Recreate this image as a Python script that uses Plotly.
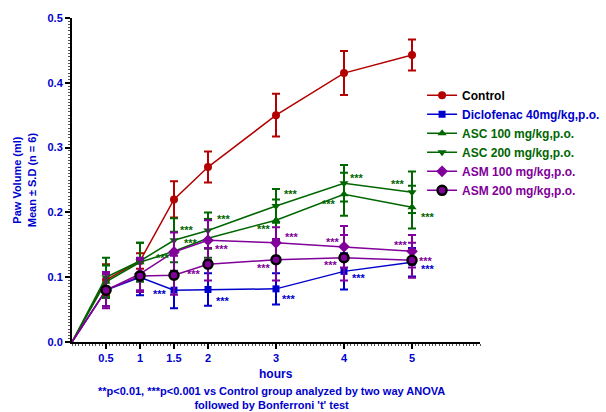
import plotly.graph_objects as go

# ---------------- data ----------------
hours = [0, 0.5, 1, 1.5, 2, 3, 4, 5]

control = [0, 0.096, 0.125, 0.220, 0.270, 0.350, 0.415, 0.443]
control_sd = [0, 0.024, 0.012, 0.028, 0.024, 0.033, 0.034, 0.024]

diclofenac = [0, 0.080, 0.100, 0.080, 0.081, 0.082, 0.109, 0.123]
diclofenac_sd = [0, 0.025, 0.028, 0.028, 0.025, 0.024, 0.028, 0.022]

asc100 = [0, 0.093, 0.123, 0.140, 0.160, 0.188, 0.228, 0.208]
asc100_sd = [0, 0.025, 0.030, 0.030, 0.030, 0.032, 0.033, 0.033]

asc200 = [0, 0.100, 0.125, 0.157, 0.172, 0.210, 0.245, 0.231]
asc200_sd = [0, 0.030, 0.028, 0.034, 0.028, 0.026, 0.028, 0.032]

asm100 = [0, 0.080, 0.105, 0.139, 0.157, 0.153, 0.147, 0.140]
asm100_sd = [0, 0.028, 0.025, 0.030, 0.031, 0.024, 0.032, 0.025]

asm200 = [0, 0.080, 0.102, 0.103, 0.120, 0.127, 0.130, 0.126]
asm200_sd = [0, 0.025, 0.025, 0.030, 0.025, 0.032, 0.035, 0.027]

x_tick_vals = [0.5, 1, 1.5, 2, 3, 4, 5]
x_tick_text = ["0.5", "1", "1.5", "2", "3", "4", "5"]
y_tick_vals = [0.0, 0.1, 0.2, 0.3, 0.4, 0.5]

RED = "#b30000"
BLUE = "#0000cc"
GREEN = "#006600"
PURPLE = "#800099"
FONT = "Liberation Sans, Arial, sans-serif"

series = [
    dict(key="control", name="Control", y=control, sd=control_sd, color=RED,
         text_color="#000000", symbol="circle", size=8, line=None),
    dict(key="diclo", name="Diclofenac 40mg/kg,p.o.", y=diclofenac, sd=diclofenac_sd,
         color=BLUE, text_color=BLUE, symbol="square", size=7, line=None),
    dict(key="asc100", name="ASC 100 mg/kg,p.o.", y=asc100, sd=asc100_sd, color=GREEN,
         text_color=GREEN, symbol="triangle-up", size=8, line=None),
    dict(key="asc200", name="ASC 200 mg/kg,p.o.", y=asc200, sd=asc200_sd, color=GREEN,
         text_color=GREEN, symbol="triangle-down", size=8, line=None),
    dict(key="asm100", name="ASM 100 mg/kg,p.o.", y=asm100, sd=asm100_sd, color=PURPLE,
         text_color=PURPLE, symbol="diamond", size=9, line=None),
    dict(key="asm200", name="ASM 200 mg/kg,p.o.", y=asm200, sd=asm200_sd, color=PURPLE,
         text_color=PURPLE, symbol="circle", size=9, line=dict(color="#000000", width=2.5)),
]

# significance labels: (series key, hour index, side, xshift, yshift)
stars = [
    ("asc200", 3, "left", 4, 10), ("asc100", 3, "right", -2, -7),
    ("asc100", 4, "right", -8, -5), ("asc200", 4, "left", 7, 12),
    ("asc200", 5, "left", 6, 12), ("asc100", 5, "right", -3, -9),
    ("asc200", 6, "left", 4, 5), ("asc100", 6, "right", -6, -10),
    ("asc200", 7, "right", -5, 8), ("asc100", 7, "left", 7, -10),
    ("asm200", 4, "right", -5, -10), ("asm100", 4, "left", 5, -9),
    ("asm100", 5, "left", 7, 6), ("asm200", 5, "right", -3, -8),
    ("asm100", 6, "right", -2, 5), ("asm200", 6, "right", -4, -7),
    ("asm100", 7, "right", -2, 6), ("asm200", 7, "left", 5, -1),
    ("diclo", 3, "right", -5, -4), ("diclo", 4, "left", 6, -11),
    ("diclo", 5, "left", 4, -10), ("diclo", 6, "left", 6, -7),
    ("diclo", 7, "left", 7, -7),
]

fig = go.Figure()

for s in series:
    # first segment from origin without marker
    fig.add_trace(go.Scatter(
        x=hours[:2], y=s["y"][:2], mode="lines",
        line=dict(color=s["color"], width=1.5), showlegend=False, hoverinfo="skip"))
for s in series:
    marker = dict(color=s["color"], symbol=s["symbol"], size=s["size"])
    if s["line"]:
        marker["line"] = s["line"]
    else:
        marker["line"] = dict(width=0)
    fig.add_trace(go.Scatter(
        x=hours[1:], y=s["y"][1:], mode="lines+markers",
        name="<b><span style='color:%s'>%s</span></b>" % (s["text_color"], s["name"]),
        line=dict(color=s["color"], width=1.5),
        marker=marker,
        error_y=dict(type="data", array=s["sd"][1:], color=s["color"],
                     thickness=2, width=4),
    ))

lookup = {s["key"]: s for s in series}
for key, i, side, dx, dy in stars:
    s = lookup[key]
    fig.add_annotation(
        x=hours[i], y=s["y"][i], text="<b>***</b>", showarrow=False,
        xanchor=side, yanchor="middle", xshift=dx, yshift=dy,
        font=dict(family=FONT, size=11, color=s["color"]))

fig.add_annotation(
    xref="paper", yref="paper", x=-0.117, y=0.5, xanchor="center", yanchor="middle",
    text="<b>Paw Volume (ml)<br>Mean ± S.D (n = 6)</b>", textangle=-90, showarrow=False,
    font=dict(family=FONT, size=11, color=BLUE))

fig.add_annotation(
    xref="paper", yref="paper", x=0.5, y=-0.072, xanchor="center", yanchor="top",
    text="<b>hours</b>", showarrow=False,
    font=dict(family=FONT, size=12, color=BLUE))

fig.add_annotation(
    xref="paper", yref="paper", x=0.49, y=-0.128, xanchor="center", yanchor="top",
    text="<b>**p<0.01, ***p<0.001 vs Control group analyzed by two way ANOVA<br>followed by Bonferroni 't' test</b>",
    showarrow=False, font=dict(family=FONT, size=11, color=BLUE))

fig.update_xaxes(
    range=[0, 6], tickvals=x_tick_vals, ticktext=x_tick_text, automargin=False,
    showgrid=False, zeroline=False, showline=True, linecolor="#000000", linewidth=2,
    ticks="outside", ticklen=5, tickwidth=2, tickcolor="#000000",
    tickfont=dict(family=FONT, size=11, color=BLUE, weight="bold"),
    minor=dict(ticks="outside", dtick=0.05, ticklen=2, tickwidth=1, tickcolor="#555555"))
fig.update_yaxes(
    range=[0, 0.5], tickvals=y_tick_vals, tickformat=".1f", automargin=False,
    showgrid=False, zeroline=False, showline=True, linecolor="#000000", linewidth=2,
    ticks="outside", ticklen=5, tickwidth=2, tickcolor="#000000",
    tickfont=dict(family=FONT, size=11, color=BLUE, weight="bold"),
    minor=dict(ticks="outside", dtick=0.005, ticklen=2, tickwidth=1, tickcolor="#555555"))

# figure is a little wider than the window so the legend (which reaches the
# right edge in the reference) does not push the plot margins
fig.update_layout(
    width=624, height=412,
    margin=dict(l=72, r=144, t=18, b=70),
    paper_bgcolor="#ffffff", plot_bgcolor="#ffffff",
    font=dict(family=FONT, size=12, color="#000000"),
    legend=dict(x=0.858, y=0.806, xanchor="left", yanchor="top",
                bgcolor="rgba(0,0,0,0)", font=dict(family=FONT, size=12),
                tracegroupgap=0, itemwidth=30),
    showlegend=True,
)

fig.write_html(
    "out.html",
    config={"displayModeBar": False},
    post_script="document.body.style.margin='0';document.body.style.overflow='hidden';"
                "document.documentElement.style.overflow='hidden';")
